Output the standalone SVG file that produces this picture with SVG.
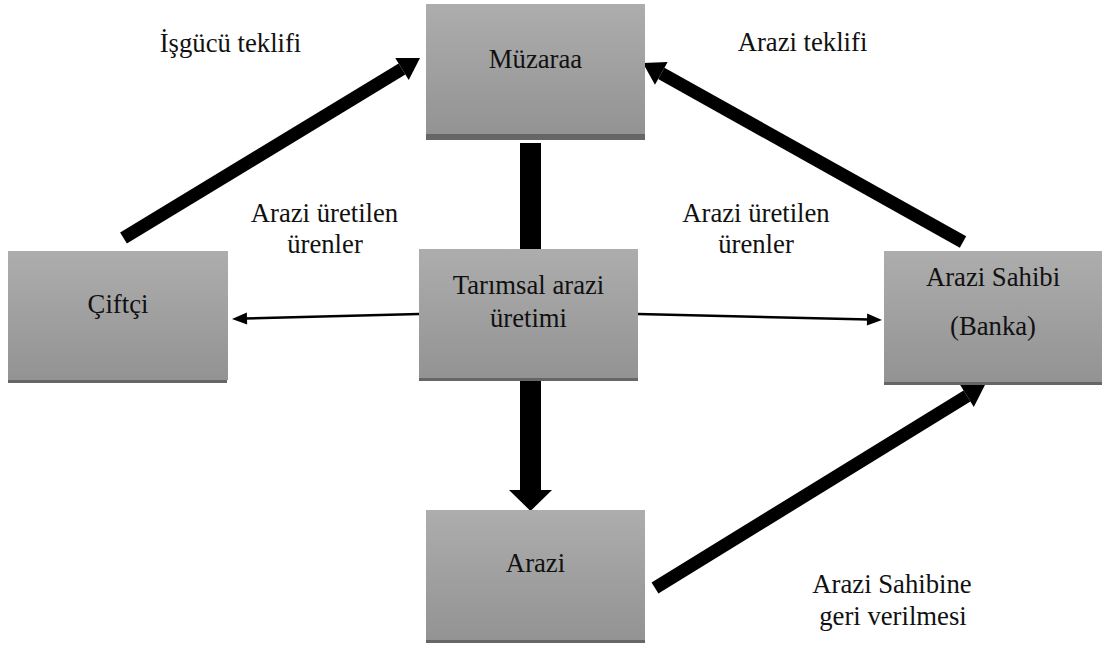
<svg xmlns="http://www.w3.org/2000/svg" width="1104" height="649" viewBox="0 0 1104 649">
  <style>
    .box { fill: url(#boxFill); }
    .shadow { fill: #666666; }
    .t { font-family: 'Liberation Serif', 'Times New Roman', 'DejaVu Serif', serif; font-size: 26.7px; fill: #111111; text-anchor: middle; }
    .thick { stroke: #000000; stroke-width: 13; fill: none; }
    .thin { stroke: #000000; stroke-width: 2.5; fill: none; }
  </style>
  <defs>
    <linearGradient id="boxFill" x1="0" y1="0" x2="0" y2="1">
      <stop offset="0" stop-color="#adadad"/>
      <stop offset="1" stop-color="#939393"/>
    </linearGradient>
    <marker id="headThick" markerUnits="strokeWidth" markerWidth="1.7" markerHeight="2" refX="0" refY="1" orient="auto" overflow="visible">
      <path d="M0,0 L1.62,1 L0,2 Z" fill="#000000"/>
    </marker>
    <marker id="headThin" markerUnits="userSpaceOnUse" markerWidth="16" markerHeight="14" refX="2" refY="6" orient="auto" overflow="visible">
      <path d="M0,0 L15,6 L0,12 Z" fill="#000000"/>
    </marker>
  </defs>

  <!-- connectors -->
  <g id="connectors">
    <!-- Çiftçi to Müzaraa -->
    <line class="thick" x1="123.5" y1="238" x2="402" y2="69" marker-end="url(#headThick)"/>
    <!-- Arazi Sahibi to Müzaraa -->
    <line class="thick" x1="963" y1="242" x2="661.3" y2="73.3" marker-end="url(#headThick)"/>
    <!-- Arazi to Arazi Sahibi -->
    <line class="thick" x1="655" y1="588" x2="967" y2="396" marker-end="url(#headThick)"/>
    <!-- Müzaraa to production bar -->
    <rect x="520" y="143" width="21" height="107" fill="#000000"/>
    <!-- production to Arazi -->
    <rect x="520" y="376" width="21" height="115" fill="#000000"/>
    <polygon points="509,490 552,490 530.5,511" fill="#000000"/>
    <!-- production outputs -->
    <line class="thin" x1="419" y1="314" x2="245" y2="318.6" marker-end="url(#headThin)"/>
    <line class="thin" x1="638" y1="314" x2="869" y2="319.6" marker-end="url(#headThin)"/>
  </g>

  <g id="node-muzaraa">
    <rect class="shadow" x="426" y="7" width="219" height="133"/>
    <rect class="box" x="426" y="4" width="219" height="130"/>
    <text class="t" font-family="Liberation Serif, serif" x="535.5" y="68">Müzaraa</text>
  </g>

  <g id="node-ciftci">
    <rect class="shadow" x="8" y="254" width="219" height="129"/>
    <rect class="box" x="8" y="251" width="220" height="129"/>
    <text class="t" font-family="Liberation Serif, serif" x="118" y="313">Çiftçi</text>
  </g>

  <g id="node-uretim">
    <rect class="shadow" x="419" y="252" width="219" height="129"/>
    <rect class="box" x="419" y="249" width="219" height="129"/>
    <text class="t" font-family="Liberation Serif, serif" x="528.5" y="294">Tarımsal arazi</text>
    <text class="t" font-family="Liberation Serif, serif" x="528.5" y="327">üretimi</text>
  </g>

  <g id="node-sahibi">
    <rect class="shadow" x="884" y="254" width="218" height="131"/>
    <rect class="box" x="884" y="251" width="218" height="131"/>
    <text class="t" font-family="Liberation Serif, serif" x="993" y="286">Arazi Sahibi</text>
    <text class="t" font-family="Liberation Serif, serif" x="993" y="335">(Banka)</text>
  </g>

  <g id="node-arazi">
    <rect class="shadow" x="426" y="513" width="219" height="130"/>
    <rect class="box" x="426" y="510" width="219" height="130"/>
    <text class="t" font-family="Liberation Serif, serif" x="535.5" y="572">Arazi</text>
  </g>

  <!-- connector labels -->
  <g id="labels" font-family="Liberation Serif, serif">
    <text class="t" x="230.5" y="52">İşgücü teklifi</text>
    <text class="t" x="802.5" y="51">Arazi teklifi</text>
    <text class="t" x="324.5" y="222">Arazi üretilen</text>
    <text class="t" x="325" y="253">ürenler</text>
    <text class="t" x="756" y="222">Arazi üretilen</text>
    <text class="t" x="756" y="253">ürenler</text>
    <text class="t" x="892" y="593">Arazi Sahibine</text>
    <text class="t" x="893" y="625">geri verilmesi</text>
  </g>
</svg>
